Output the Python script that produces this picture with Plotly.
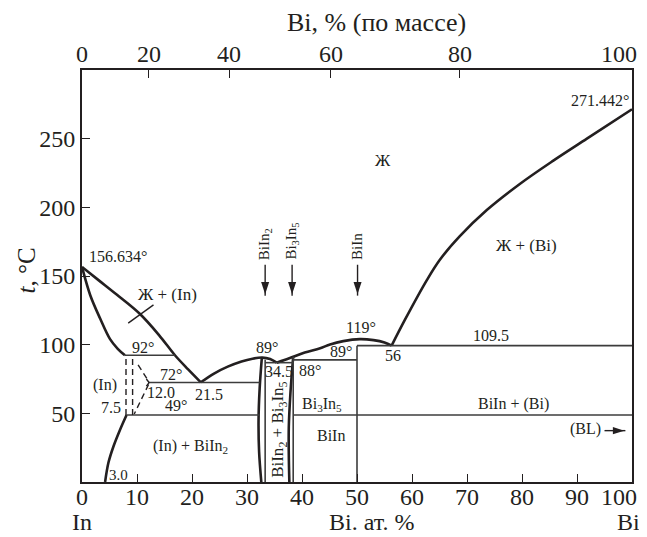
import plotly.graph_objects as go

# ---------------- data ----------------
# liquidus, In side (In melting point -> eutectic 21.5)
liq_in_x = [0, 3, 6.3, 10.5, 14, 16.9, 19.3, 21.6]
liq_in_y = [156.6, 147, 136.5, 122.5, 107, 92.3, 82, 72.6]
# solidus of (In)
sol_in_x = [0, 1.5, 3.3, 5.1, 6.5, 7.8]
sol_in_y = [156.6, 136, 119, 104, 97, 92.3]
# solvus of (In)
solv_x = [8.1, 6.9, 5.7, 4.8, 4.2]
solv_y = [48.8, 37.9, 25.7, 14, 0]
# liquidus eutectic -> BiIn2 maximum -> eutectic 34.5
liq_a_x = [21.6, 24, 26.5, 29, 31, 32.8, 34.2, 35.4]
liq_a_y = [72.6, 79, 84, 87.8, 89.8, 90.6, 89.5, 86.9]
# liquidus 34.5 -> BiIn maximum -> eutectic 56
liq_b_x = [35.4, 36.8, 38.4, 40.5, 43.3, 45.1, 47.5, 50.5, 53, 55, 56.3]
liq_b_y = [86.9, 88.8, 91.2, 94.3, 97.4, 100.2, 102.6, 104, 103.3, 101.6, 99.3]
# liquidus Bi side
liq_bi_x = [56.3, 58.7, 62.7, 65.1, 68.7, 73.6, 79.6, 85.7, 91.8, 100]
liq_bi_y = [99.3, 118, 147, 162, 179, 198, 217, 234, 250, 271.4]
# BiIn2 and Bi3In5 phase boundaries
biin2_x = [32.7, 32.3, 32.1, 32.2, 32.6]
biin2_y = [90.6, 68, 45, 22, 0]
bi3in5_x = [38.4, 37.9, 37.6, 37.6, 37.7]
bi3in5_y = [91.2, 65, 40, 20, 0]

# horizontal invariant lines: (x_start, x_end, t)
h_lines = [
    (7.8, 16.9, 92.3),
    (12.1, 32.3, 72.4),
    (8.1, 32.3, 48.8),
    (38.4, 100, 48.8),
    (33.3, 38.4, 86.9),
    (38.4, 50, 88.9),
    (50, 100, 99.3),
]
# vertical lines: (x, t_bottom, t_top)
v_lines = [
    (50, 0, 99.3),
    (33.3, 0, 89.0),
    (38.4, 0, 91.2),
]
# dashed (In) boundaries
dash_lines = [
    ([8.0, 8.0], [48.8, 92.3]),
    ([9.2, 9.2], [48.8, 92.3]),
    ([10.2, 12.1], [85.3, 73.5]),
    ([12.1, 9.5], [71.0, 49.5]),
]
hook_x = [11.7, 12.2, 11.7]
hook_y = [75.0, 72.4, 69.8]
leader_x = [8.4, 13.0]
leader_y = [115.7, 129.0]

# compound arrows (pointing down) and (BL) arrow
compounds = ["BiIn<sub>2</sub>", "Bi<sub>3</sub>In<sub>5</sub>", "BiIn"]
compound_x = [33.3, 38.2, 50.1]
arrow_top_t = 158.2
arrow_tip_t = 132.7
bl_arrow_x = [95.0, 99.6]
bl_arrow_t = 37.4

# axes
x_ticks = [0, 10, 20, 30, 40, 50, 60, 70, 80, 90, 100]
x_ticklabels = ["0", "10", "20", "30", "40", "50", "60", "70", "80", "90", "100"]
y_ticks = [50, 100, 150, 200, 250]
mass_labels = ["0", "20", "40", "60", "80", "100"]
mass_pos_at = [0, 12.1, 26.8, 45.2, 68.7, 100]

# text labels: (text, x, t, size, anchor)
labels = [
    ("156.634°", 0.9, 164, 16, "left"),
    ("271.442°", 99.8, 277.7, 16, "right"),
    ("Ж", 54.7, 234, 17, "center"),
    ("Ж + (Bi)", 80.9, 172, 17, "center"),
    ("Ж + (In)", 15.6, 136.3, 17, "center"),
    ("92°", 11.1, 98, 16, "center"),
    ("72°", 16.2, 78, 16, "center"),
    ("(In)", 4.2, 70.7, 16, "center"),
    ("12.0", 14.4, 65.2, 16, "center"),
    ("21.5", 23.1, 64, 16, "center"),
    ("49°", 17.0, 55.8, 16, "center"),
    ("7.5", 5.3, 54, 16, "center"),
    ("(In) + BiIn<sub>2</sub>", 19.8, 25.7, 16, "center"),
    ("3.0", 6.6, 5.1, 15, "center"),
    ("89°", 33.7, 98, 16, "center"),
    ("34.5", 35.9, 80.2, 16, "center"),
    ("88°", 41.5, 81, 16, "center"),
    ("Bi<sub>3</sub>In<sub>5</sub>", 43.7, 56.1, 16, "center"),
    ("BiIn", 45.2, 33.5, 16, "center"),
    ("89°", 47.1, 95, 16, "center"),
    ("119°", 50.7, 112.6, 16, "center"),
    ("56", 56.5, 92.3, 16, "center"),
    ("109.5", 74.4, 107, 16, "center"),
    ("BiIn + (Bi)", 78.5, 56.9, 16, "center"),
    ("(BL)", 91.5, 38.8, 16, "center"),
]

INK = "#231f20"
THIN = "#3c3c3c"
FONT = "Liberation Serif, Times New Roman, serif"

fig = go.Figure()

def curve(x, y, w=2.6, color=INK, shape="spline", dash=None):
    fig.add_trace(go.Scatter(x=x, y=y, mode="lines",
                             line=dict(color=color, width=w, shape=shape, dash=dash),
                             hoverinfo="skip", showlegend=False))

for xs, ys in [(liq_in_x, liq_in_y), (sol_in_x, sol_in_y), (solv_x, solv_y),
               (liq_a_x, liq_a_y), (liq_b_x, liq_b_y), (liq_bi_x, liq_bi_y),
               (biin2_x, biin2_y), (bi3in5_x, bi3in5_y)]:
    curve(xs, ys)

for x0, x1, t in h_lines:
    curve([x0, x1], [t, t], w=1.6, color=THIN, shape="linear")
for xv, t0, t1 in v_lines:
    curve([xv, xv], [t0, t1], w=1.6, color=THIN, shape="linear")
for xs, ys in dash_lines:
    curve(xs, ys, w=1.4, color=INK, shape="linear", dash="6px,4px")
curve(hook_x, hook_y, w=1.4, color=INK, shape="linear")
curve(leader_x, leader_y, w=1.4, color=INK, shape="linear")

# arrows drawn as line + arrow marker
for xc in compound_x:
    fig.add_trace(go.Scatter(x=[xc, xc], y=[arrow_top_t, arrow_tip_t + 3], mode="lines",
                             line=dict(color=INK, width=1.4),
                             hoverinfo="skip", showlegend=False))
    fig.add_trace(go.Scatter(x=[xc], y=[arrow_tip_t + 4], mode="markers",
                             marker=dict(symbol="arrow", angle=180, size=13, color=INK,
                                         line=dict(width=0)),
                             hoverinfo="skip", showlegend=False))
fig.add_trace(go.Scatter(x=[bl_arrow_x[0], bl_arrow_x[1] - 0.8], y=[bl_arrow_t, bl_arrow_t],
                         mode="lines", line=dict(color=INK, width=1.4),
                         hoverinfo="skip", showlegend=False))
fig.add_trace(go.Scatter(x=[bl_arrow_x[1] - 1.0], y=[bl_arrow_t], mode="markers",
                         marker=dict(symbol="arrow", angle=90, size=12, color=INK,
                                     line=dict(width=0)),
                         hoverinfo="skip", showlegend=False))

# secondary top axis trace (invisible) so xaxis2 renders
fig.add_trace(go.Scatter(x=[0, 100], y=[0, 0], xaxis="x2", mode="lines",
                         line=dict(width=0), hoverinfo="skip", showlegend=False))

ann = []
for txt, x, t, size, anchor in labels:
    ann.append(dict(text=txt, x=x, y=t, xref="x", yref="y", showarrow=False,
                    xanchor=anchor, yanchor="middle",
                    font=dict(family=FONT, size=size, color=INK)))
# rotated region label
ann.append(dict(text="BiIn<sub>2</sub> + Bi<sub>3</sub>In<sub>5</sub>", x=35.8, y=37.9,
                xref="x", yref="y", showarrow=False, textangle=-90,
                font=dict(family=FONT, size=17, color=INK)))
for txt, xc in zip(compounds, compound_x):
    ann.append(dict(text=txt, x=xc, y=arrow_top_t + 2, xref="x", yref="y", showarrow=False,
                    textangle=-90, yanchor="bottom", xanchor="center",
                    font=dict(family=FONT, size=15, color=INK)))

TICKF = dict(family=FONT, size=24, color=INK)
# bottom and top tick labels as text (last one kept inside the page edge)
for v, s in zip(x_ticks, x_ticklabels):
    last = v == x_ticks[-1]
    ann.append(dict(text=s, x=v, y=0, xref="x", yref="paper", yshift=-15,
                    xanchor="right" if last else "center", xshift=7 if last else 0,
                    yanchor="middle", showarrow=False, font=TICKF))
for v, s in zip(mass_pos_at, mass_labels):
    last = v == mass_pos_at[-1]
    ann.append(dict(text=s, x=v, y=1, xref="x", yref="paper", yshift=16,
                    xanchor="right" if last else "center", xshift=7 if last else 0,
                    yanchor="middle", showarrow=False, font=TICKF))

# axis titles
TF = dict(family=FONT, size=24, color=INK)
ann.append(dict(text="<i>t</i>, °C", x=0, y=154, xref="paper", yref="y",
                xshift=-55, xanchor="center", yanchor="middle", textangle=-90,
                showarrow=False, font=dict(family=FONT, size=25, color=INK)))
ann.append(dict(text="Bi, % (по массе)", x=53.5, y=1, xref="x", yref="paper",
                yshift=48, xanchor="center", yanchor="middle", showarrow=False,
                font=dict(family=FONT, size=26, color=INK)))
ann.append(dict(text="Bi. ат. %", x=52.7, y=0, xref="x", yref="paper",
                yshift=-40, xanchor="center", yanchor="middle", showarrow=False,
                font=TF))
ann.append(dict(text="In", x=0, y=0, xref="x", yref="paper",
                yshift=-40, xanchor="center", yanchor="middle", showarrow=False,
                font=TF))
ann.append(dict(text="Bi", x=100, y=0, xref="x", yref="paper", xshift=-4,
                yshift=-40, xanchor="center", yanchor="middle", showarrow=False,
                font=TF))

# the page adds an 8px body margin; the figure is sized/offset to compensate
fig.update_layout(
    width=631, height=529,
    margin=dict(l=74, r=7, t=62, b=55, autoexpand=False),
    paper_bgcolor="white", plot_bgcolor="white",
    font=dict(family=FONT, size=23, color=INK),
    xaxis=dict(range=[0, 100], tickvals=x_ticks, ticks="inside", ticklen=8,
               tickwidth=1.3, tickcolor=INK, showline=True, linecolor=INK,
               linewidth=1.8, mirror=False, showgrid=False, zeroline=False,
               showticklabels=False, automargin=False),
    xaxis2=dict(range=[0, 100], overlaying="x", side="top", tickvals=mass_pos_at,
                ticks="inside", ticklen=8, tickwidth=1.3,
                tickcolor=INK, showline=True, linecolor=INK, linewidth=1.8,
                showgrid=False, zeroline=False, showticklabels=False, automargin=False),
    yaxis=dict(range=[0, 300], tickvals=y_ticks, ticks="inside", ticklen=8,
               tickwidth=1.3, tickcolor=INK, showline=True, linecolor=INK,
               linewidth=1.8, mirror=True, showgrid=False, zeroline=False,
               automargin=False, tickfont=TICKF),
    annotations=ann,
)

fig.write_html("out.html")
